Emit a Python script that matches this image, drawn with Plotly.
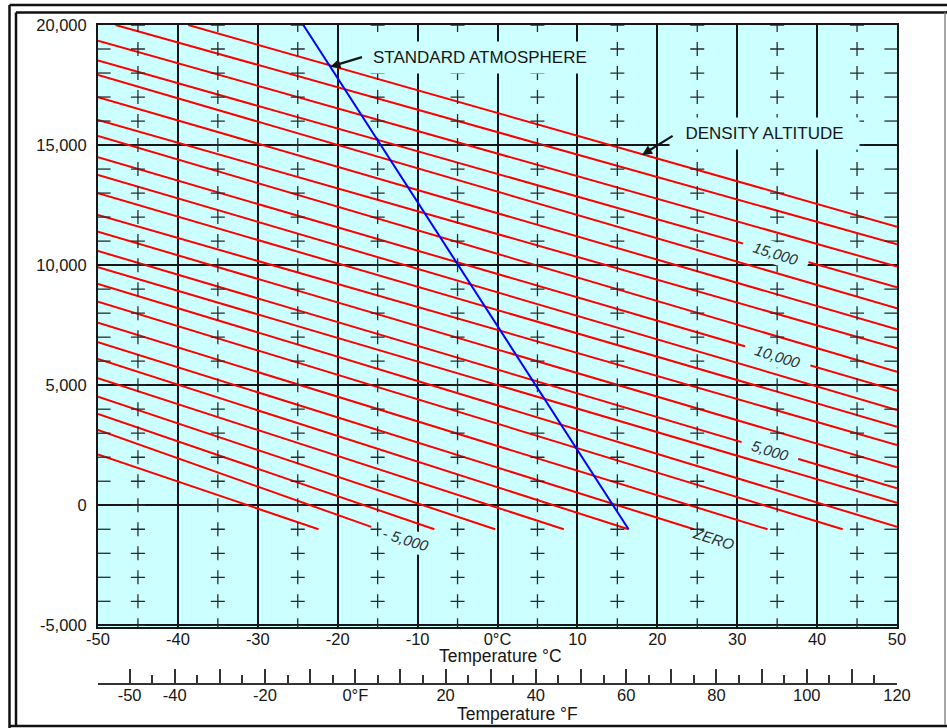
import plotly.graph_objects as go

# ---------------- data ----------------
# density-altitude lines (ft), each drawn as a straight segment start -> end
density_altitude_ft = [-6000, -5000, -4000, -3000, -2000, -1000, 0, 1000, 2000,
                       3000, 4000, 5000, 6000, 7000, 8000, 9000, 10000, 11000,
                       12000, 13000, 14000, 15000, 16000, 17000, 18000]
line_start_temp_c = [-50, -50, -50, -50, -50, -50, -50, -50, -50,
                     -50, -50, -50, -50, -50, -50, -50, -50, -50,
                     -50, -50, -50, -50, -50, -47.8, -38.7]
line_start_alt_ft = [2120, 3140, 3800, 4520, 5290, 6090, 6790, 7600, 8480,
                     9220, 9910, 10590, 11390, 12090, 12990, 13760, 14490, 15380,
                     16050, 16990, 17920, 18520, 19350, 20000, 20000]
line_end_temp_c = [-22.4, -15.8, -7.9, -0.3, 8.3, 16.4, 24.6, 33.8, 43.2,
                   50, 50, 50, 50, 50, 50, 50, 50, 50,
                   50, 50, 50, 50, 50, 50, 50]
line_end_alt_ft = [-1000, -900, -1000, -1000, -1000, -1000, -1000, -1000, -1000,
                   -900, 100, 710, 1580, 2510, 3270, 3970, 4770, 5560,
                   6540, 7330, 8200, 9080, 9940, 10870, 11600]

# standard atmosphere line
std_temp_c = [-24.3, 16.4]
std_alt_ft = [20000, -1000]

# grid of "+" marks
cross_temp_c = [-45, -35, -25, -15, -5, 5, 15, 25, 35, 45]
cross_alt_ft = [-5000, -4000, -3000, -2000, -1000, 0, 1000, 2000, 3000, 4000, 5000,
                6000, 7000, 8000, 9000, 10000, 11000, 12000, 13000, 14000, 15000,
                16000, 17000, 18000, 19000, 20000]
edge_tick_alt_ft = [-4000, -3000, -2000, -1000, 1000, 2000, 3000, 4000, 6000, 7000,
                    8000, 9000, 11000, 12000, 13000, 14000, 16000, 17000, 18000, 19000]

# tick labels
c_tick_vals = [-50, -40, -30, -20, -10, 0, 10, 20, 30, 40, 50]
c_tick_text = ["-50", "-40", "-30", "-20", "-10", "0°C", "10", "20", "30", "40", "50"]
alt_tick_vals = [-5000, 0, 5000, 10000, 15000, 20000]
alt_tick_text = ["-5,000", "0", "5,000", "10,000", "15,000", "20,000"]
f_tick_vals = [-50, -40, -30, -20, -10, 0, 10, 20, 30, 40, 50, 60, 70, 80, 90, 100, 110, 120]
f_tick_text = ["-50", "-40", "", "-20", "", "0°F", "", "20", "", "40", "", "60", "", "80", "", "100", "", "120"]
f_minor_vals = [-45, -35, -25, -15, -5, 5, 15, 25, 35, 45, 55, 65, 75, 85, 95, 105, 115]

line_labels = ["- 5,000", "ZERO", "5,000", "10,000", "15,000"]

# ---------------- styling ----------------
FONT = "Liberation Sans, Arial, Helvetica, sans-serif"
BG = "#ccffff"
INK = "#161616"
TXT = "#161616"
TICK_FS = 16.5
ANN_FS = 17
TITLE_FS = 17.5

fig = go.Figure()

# red density altitude lines (single trace, gaps between segments)
rx, ry = [], []
for ts, as_, te, ae in zip(line_start_temp_c, line_start_alt_ft, line_end_temp_c, line_end_alt_ft):
    rx += [ts, te, None]
    ry += [as_, ae, None]
fig.add_trace(go.Scatter(x=rx, y=ry, mode="lines", line=dict(color="#ff0000", width=2),
                         hoverinfo="skip"))

# crosses
cx, cy = [], []
for t in cross_temp_c:
    for a in cross_alt_ft:
        cx.append(t)
        cy.append(a)
fig.add_trace(go.Scatter(x=cx, y=cy, mode="markers",
                         marker=dict(symbol="cross-thin", size=10,
                                     line=dict(color="#2a2a2a", width=1.3)),
                         hoverinfo="skip"))

# small edge ticks on left and right borders
ex = [-50] * len(edge_tick_alt_ft) + [50] * len(edge_tick_alt_ft)
ey = edge_tick_alt_ft + edge_tick_alt_ft
fig.add_trace(go.Scatter(x=ex, y=ey, mode="markers",
                         marker=dict(symbol="line-ew", size=18,
                                     line=dict(color="#2a2a2a", width=1.3)),
                         hoverinfo="skip"))

# standard atmosphere (blue)
fig.add_trace(go.Scatter(x=std_temp_c, y=std_alt_ft, mode="lines",
                         line=dict(color="#0000ff", width=2), hoverinfo="skip"))

# empty trace to register the Fahrenheit axis
fig.add_trace(go.Scatter(x=[], y=[], xaxis="x2", yaxis="y", mode="lines", hoverinfo="skip"))

# ---------------- layout ----------------
W, H = 947, 728
ML, MR, MT, MB = 98, 50, 25, 44
PW, PH = W - ML - MR, H - MT - MB


def px(xp):
    return (xp - ML) / PW


def py(yp):
    return (H - MB - yp) / PH


y_bottom_px = 627
fig.update_layout(
    width=W, height=H,
    margin=dict(l=ML, r=MR, t=MT, b=MB, pad=0),
    paper_bgcolor="white", plot_bgcolor=BG,
    showlegend=False, hovermode=False,
    font=dict(family=FONT, size=16, color=TXT),
    xaxis=dict(range=[-50, 50], domain=[0, 1], anchor="y",
               tickmode="array", tickvals=c_tick_vals, ticktext=c_tick_text,
               ticks="", ticklabelstandoff=-4, showgrid=True, gridcolor=INK, gridwidth=2.3,
               zeroline=False, showline=True, linecolor=INK, linewidth=2, mirror=True,
               tickfont=dict(size=TICK_FS, color=TXT)),
    xaxis2=dict(range=[-57, 120], overlaying="x", anchor="free", position=0, side="bottom",
                tickmode="array", tickvals=f_tick_vals, ticktext=f_tick_text,
                ticks="inside", ticklen=14, tickwidth=1.5, tickcolor="#333333",
                ticklabelstandoff=-4,
                minor=dict(tickmode="array", tickvals=f_minor_vals, ticks="inside",
                           ticklen=8, tickwidth=1.5, tickcolor="#333333"),
                showgrid=False, zeroline=False, showline=True, linecolor="#333333",
                linewidth=1.5, tickfont=dict(size=TICK_FS, color=TXT)),
    yaxis=dict(range=[-5070, 20000], domain=[py(y_bottom_px), 1], anchor="x",
               tickmode="array", tickvals=alt_tick_vals, ticktext=alt_tick_text,
               ticks="", ticklabelstandoff=6, showgrid=True, gridcolor=INK, gridwidth=2.3,
               zeroline=False, showline=True, linecolor=INK, linewidth=2, mirror=True,
               tickfont=dict(size=TICK_FS, color=TXT)),
)

NB = "\u00a0"
ann = []
# axis titles
ann.append(dict(text="Temperature °C", xref="paper", yref="paper", x=px(500), y=py(656),
                showarrow=False, font=dict(size=TITLE_FS, color=TXT),
                xanchor="center", yanchor="middle"))
ann.append(dict(text="Temperature °F", xref="paper", yref="paper", x=px(517), y=py(714),
                showarrow=False, font=dict(size=TITLE_FS, color=TXT),
                xanchor="center", yanchor="middle"))
# callouts
ann.append(dict(text="STANDARD ATMOSPHERE", xref="x", yref="y", x=-2.2, y=18630,
                showarrow=False, font=dict(size=ANN_FS, color=TXT),
                bgcolor=BG, borderpad=6))
ann.append(dict(text=NB * 2 + "DENSITY ALTITUDE" + NB * 2, xref="x", yref="y", x=33.4, y=15500,
                showarrow=False, font=dict(size=ANN_FS, color=TXT),
                bgcolor=BG, borderpad=6))
ann.append(dict(text="", xref="x", yref="y", x=-20.9, y=18265, ax=33, ay=-10,
                showarrow=True, arrowhead=2, arrowsize=0.9, arrowwidth=2.2, arrowcolor=INK))
ann.append(dict(text="", xref="x", yref="y", x=18.1, y=14590, ax=32, ay=-20,
                showarrow=True, arrowhead=2, arrowsize=0.9, arrowwidth=2.2, arrowcolor=INK))
# line labels
lab_pos = [(-11.5, -1445, True), (27.0, -1400, False), (34.1, 2300, True),
           (35.1, 6180, True), (34.8, 10465, True)]
for txt, (lx, ly, knock) in zip(line_labels, lab_pos):
    d = dict(text="<i>" + (NB * 2 + txt + NB * 2 if knock and txt != "- 5,000" else txt) + "</i>",
             xref="x", yref="y", x=lx, y=ly, showarrow=False, textangle=17,
             font=dict(size=15, color="#2e2e2e"))
    if knock:
        d.update(bgcolor=BG, borderpad=2)
    ann.append(d)
fig.update_layout(annotations=ann)

# outer double frame
shapes = []
def seg(x0, y0, x1, y1, color="#111111", w=2.5):
    shapes.append(dict(type="line", xref="paper", yref="paper",
                       x0=px(x0), y0=py(y0), x1=px(x1), y1=py(y1),
                       line=dict(color=color, width=w)))
seg(9.5, 5, 9.5, 728)
seg(9.5, 5, 947, 5)
seg(16, 12.5, 16, 725)
seg(16, 12.5, 947, 12.5)
seg(9.5, 726, 947, 726)
seg(945, 12.5, 945, 725, color="#888888", w=1.5)
fig.update_layout(shapes=shapes)

fig.write_html("out.html", config={"displayModeBar": False},
               post_script="document.body.style.margin='0px';")
